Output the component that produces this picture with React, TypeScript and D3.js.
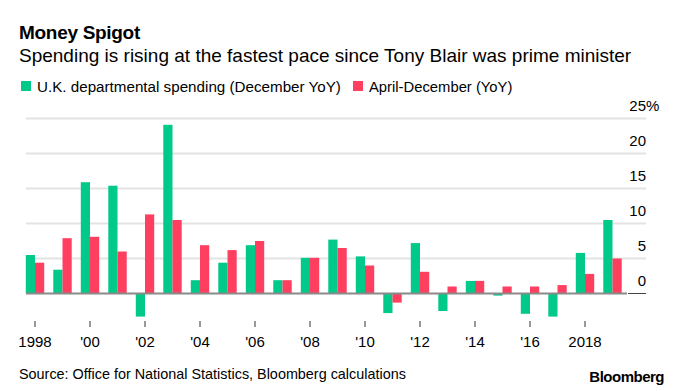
import React from 'react'
import {scaleBand, scaleLinear} from 'd3'

// years shown on the x axis
const years = [
  1998, 1999, 2000, 2001, 2002, 2003, 2004, 2005, 2006, 2007, 2008,
  2009, 2010, 2011, 2012, 2013, 2014, 2015, 2016, 2017, 2018, 2019
]
// U.K. departmental spending, December YoY %
const december = [
  5.5, 3.4, 15.9, 15.4, -3.3, 24.1, 1.9, 4.4, 6.9, 1.9, 5.1,
  7.7, 5.3, -2.8, 7.2, -2.5, 1.8, -0.3, -2.9, -3.3, 5.8, 10.5
]
// April-December YoY %
const aprDec = [
  4.4, 7.9, 8.1, 6.0, 11.3, 10.5, 6.9, 6.2, 7.5, 1.9, 5.1,
  6.5, 4.0, -1.3, 3.1, 1.0, 1.8, 1.0, 1.0, 1.2, 2.8, 5.0
]
const yTicks = [0, 5, 10, 15, 20, 25]
const xTickYears = [1998, 2000, 2002, 2004, 2006, 2008, 2010, 2012, 2014, 2016, 2018]
const xTickLabels = ['1998', "'00", "'02", "'04", "'06", "'08", "'10", "'12", "'14", "'16", '2018']

const GREEN = '#00c98a'
const RED = '#ff3f5f'
const FONT = '"Liberation Sans", Arial, sans-serif'

export default function App() {
  const width = 679
  const height = 391

  const x = scaleBand<number>()
    .domain(years)
    .range([21.25, 626.25])
    .paddingInner(0.33)
    .paddingOuter(0.165)
  const barW = x.bandwidth() / 2

  const y = scaleLinear().domain([0, 25]).range([293.5, 118.5])

  const bar = (v: number) => ({
    y: v >= 0 ? y(v) : y(0),
    h: Math.abs(y(v) - y(0))
  })

  return (
    <svg
      width={width}
      height={height}
      style={{position: 'absolute', left: 0, top: 0, background: '#fff'}}
      fontFamily={FONT}
    >
      <text x={19} y={39} fontSize={19} fontWeight="bold" fill="#000" letterSpacing={-0.3}>
        Money Spigot
      </text>
      <text x={19} y={62} fontSize={19} fill="#000">
        Spending is rising at the fastest pace since Tony Blair was prime minister
      </text>

      {/* legend */}
      <rect x={21} y={81} width={10} height={10} fill={GREEN} />
      <text x={37} y={92} fontSize={15.2} fill="#000">
        U.K. departmental spending (December YoY)
      </text>
      <rect x={353} y={81} width={10} height={10} fill={RED} />
      <text x={369} y={92} fontSize={14.8} fill="#000">
        April-December (YoY)
      </text>

      {/* grid */}
      {yTicks.filter(t => t !== 0).map(t => (
        <line key={t} x1={26} x2={646} y1={y(t)} y2={y(t)} stroke="#e3e3e3" strokeWidth={2} />
      ))}
      {yTicks.map(t => (
        <g key={'l' + t}>
          <text x={646} y={y(t) - 8} fontSize={15} textAnchor="end" fill="#000">
            {t}
          </text>
          {t === 25 && (
            <text x={646} y={y(t) - 8} fontSize={15} fill="#000">%</text>
          )}
        </g>
      ))}

      {/* bars */}
      {years.map((yr, i) => {
        const g = bar(december[i])
        const r = bar(aprDec[i])
        const x0 = x(yr) as number
        return (
          <g key={yr}>
            <rect x={x0} y={g.y} width={barW} height={g.h} fill={GREEN} />
            <rect x={x0 + barW} y={r.y} width={barW} height={r.h} fill={RED} />
          </g>
        )
      })}

      {/* zero line */}
      <line x1={26} x2={627} y1={y(0)} y2={y(0)} stroke="#8a8a8a" strokeWidth={2} />
      <line x1={628} x2={646} y1={y(0)} y2={y(0)} stroke="#444" strokeWidth={1} />

      {/* x axis */}
      {xTickYears.map((yr, i) => {
        const cx = (x(yr) as number) + barW
        return (
          <g key={yr}>
            <line x1={cx} x2={cx} y1={321} y2={327} stroke="#333" strokeWidth={1} />
            <text x={cx} y={347} fontSize={15} textAnchor="middle" fill="#000">
              {xTickLabels[i]}
            </text>
          </g>
        )
      })}

      <text x={19} y={379} fontSize={14.4} fill="#000">
        Source: Office for National Statistics, Bloomberg calculations
      </text>
      <text x={664} y={382} fontSize={15} fontWeight="bold" textAnchor="end" fill="#000" letterSpacing={-0.5}>
        Bloomberg
      </text>
    </svg>
  )
}
